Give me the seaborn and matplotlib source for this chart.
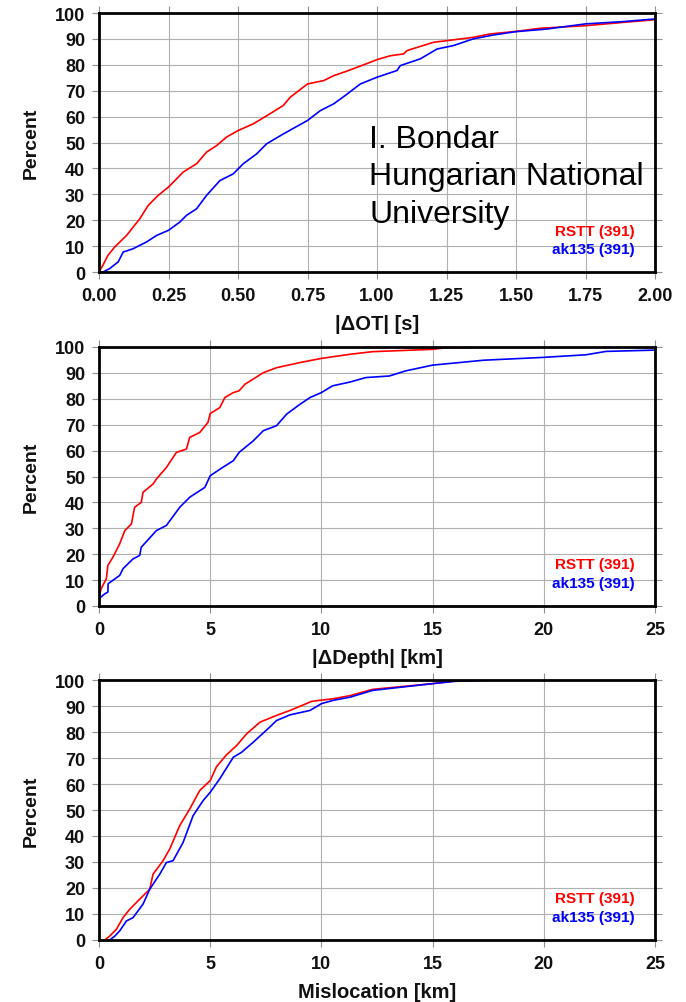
import numpy as np
import pandas as pd
import matplotlib
matplotlib.use("Agg")
import matplotlib.pyplot as plt
import seaborn as sns

# ---------------- data ----------------
# Panel 1: |dOT| [s]
ot_rstt_x = [0.0, 0.014, 0.032, 0.056, 0.099, 0.147, 0.177, 0.213, 0.25, 0.303, 0.351, 0.387, 0.423,
             0.459, 0.5, 0.555, 0.615, 0.663, 0.688, 0.75, 0.808, 0.844, 0.89, 0.94, 1.0, 1.048, 1.096,
             1.108, 1.204, 1.25, 1.346, 1.406, 1.5, 1.586, 1.75, 1.888, 2.0]
ot_rstt_y = [0.0, 2.6, 6.4, 9.6, 14.1, 20.6, 25.7, 29.6, 32.8, 38.6, 41.8, 46.3, 48.8,
             52.1, 54.6, 57.2, 61.1, 64.3, 67.5, 72.6, 73.9, 75.8, 77.5, 79.5, 82.0, 83.5, 84.2,
             85.5, 88.7, 89.3, 90.6, 91.9, 92.9, 94.1, 95.1, 96.4, 97.4]
ot_ak_x = [0.0, 0.015, 0.038, 0.069, 0.087, 0.123, 0.171, 0.207, 0.25, 0.291, 0.315, 0.351, 0.387,
           0.435, 0.483, 0.519, 0.567, 0.603, 0.663, 0.75, 0.796, 0.844, 0.89, 0.94, 1.0, 1.072,
           1.084, 1.156, 1.216, 1.274, 1.346, 1.418, 1.5, 1.61, 1.75, 1.888, 2.0]
ot_ak_y = [0.0, 0.0, 1.3, 3.9, 7.7, 9.0, 11.6, 14.1, 16.1, 19.3, 21.9, 24.4, 29.6,
           35.3, 37.9, 41.8, 45.6, 49.5, 53.3, 58.5, 62.3, 64.9, 68.5, 72.6, 75.2, 77.8,
           79.7, 82.3, 86.1, 87.4, 90.0, 91.5, 92.8, 93.8, 95.8, 96.7, 97.7]

# Panel 2: |dDepth| [km]
dep_rstt_x = [0.0, 0.1, 0.33, 0.4, 0.63, 0.93, 1.16, 1.46, 1.6, 1.9, 1.98, 2.43, 2.58, 3.03, 3.48,
              3.93, 4.08, 4.53, 4.9, 5.0, 5.43, 5.66, 6.04, 6.3, 6.56, 7.39, 7.98, 9.04, 10.0,
              11.3, 12.3, 15.0, 15.6, 17.6, 25.0]
dep_rstt_y = [3.5, 6.7, 10.5, 15.7, 18.9, 24.0, 29.1, 31.7, 38.1, 40.0, 43.9, 47.1, 49.0, 53.5, 59.3,
              60.6, 65.1, 67.0, 70.9, 74.3, 76.6, 80.5, 82.4, 83.1, 85.6, 90.1, 92.0, 94.0, 95.6,
              97.2, 98.2, 99.1, 99.7, 100.0, 100.0]
dep_ak_x = [0.0, 0.26, 0.4, 0.41, 0.93, 1.08, 1.53, 1.83, 1.9, 2.58, 3.03, 3.63, 4.08, 4.76, 5.0,
            5.56, 6.04, 6.3, 6.94, 7.39, 7.98, 8.44, 9.04, 9.49, 10.0, 10.5, 11.3, 12.0, 13.05,
            13.8, 15.0, 17.3, 20.0, 21.9, 22.8, 25.0]
dep_ak_y = [2.8, 4.7, 5.4, 8.6, 11.8, 14.4, 18.2, 19.5, 22.7, 29.1, 31.1, 38.1, 42.0, 45.8, 50.3,
            53.5, 56.1, 59.3, 63.8, 67.7, 69.6, 74.1, 77.9, 80.5, 82.4, 85.0, 86.5, 88.2, 88.8,
            90.8, 93.0, 94.9, 96.0, 97.0, 98.3, 98.8]

# Panel 3: Mislocation [km]
mis_rstt_x = [0.26, 0.48, 0.78, 1.08, 1.38, 1.83, 2.28, 2.43, 2.88, 3.18, 3.63, 4.08, 4.53, 5.0,
              5.28, 5.73, 6.19, 6.64, 7.24, 7.99, 8.59, 9.57, 10.54, 11.29, 12.3, 15.0, 15.9,
              17.4, 25.0]
mis_rstt_y = [0.0, 1.5, 4.1, 8.6, 11.8, 15.7, 19.5, 25.3, 30.5, 35.0, 44.0, 50.4, 57.5, 61.3,
              66.6, 71.2, 74.8, 79.3, 83.8, 86.4, 88.3, 91.8, 92.8, 94.0, 96.4, 98.6, 99.5,
              100.0, 100.0]
mis_ak_x = [0.48, 0.71, 0.93, 1.23, 1.53, 1.98, 2.28, 2.73, 3.03, 3.33, 3.78, 4.23, 4.68, 5.0,
            5.43, 6.04, 6.41, 6.94, 7.68, 7.98, 8.59, 9.49, 10.0, 10.54, 11.29, 12.3, 15.0,
            16.0, 17.6, 25.0]
mis_ak_y = [0.0, 1.5, 3.5, 7.3, 8.6, 13.8, 19.5, 25.3, 29.8, 30.5, 37.5, 47.8, 53.6, 56.8,
            62.0, 70.3, 72.2, 76.1, 81.9, 84.4, 86.6, 88.3, 90.9, 92.2, 93.4, 96.0, 98.6,
            99.5, 100.0, 100.0]

series_labels = ["RSTT (391)", "ak135 (391)"]
x_labels = ["|\u0394OT| [s]", "|\u0394Depth| [km]", "Mislocation [km]"]
x_limits = [(0, 2.0), (0, 25), (0, 25)]
x_ticks = [[0.0, 0.25, 0.5, 0.75, 1.0, 1.25, 1.5, 1.75, 2.0],
           [0, 5, 10, 15, 20, 25],
           [0, 5, 10, 15, 20, 25]]
x_fmt = ["{:.2f}", "{:d}", "{:d}"]
y_ticks = list(range(0, 101, 10))
annot_lines = ["I. Bondar", "Hungarian National", "University"]

panels = [
    (ot_rstt_x, ot_rstt_y, ot_ak_x, ot_ak_y),
    (dep_rstt_x, dep_rstt_y, dep_ak_x, dep_ak_y),
    (mis_rstt_x, mis_rstt_y, mis_ak_x, mis_ak_y),
]

# ---------------- style ----------------
sns.set_theme(style="white")
plt.rcParams['font.family'] = ['Liberation Sans', 'DejaVu Sans']

W, H = 686, 1003
fig = plt.figure(figsize=(W / 100, H / 100), dpi=100)

# axes boxes in pixels: (left, top, right, bottom)
boxes = [(99, 14, 655, 273), (99, 348, 655, 607), (99, 681, 655, 941)]
legend_y = [(0.158, 0.089), (0.162, 0.089), (0.162, 0.088)]
colors = ["#ff0000", "#0000ff"]

for i, (bx, (rx, ry, ax_, ay)) in enumerate(zip(boxes, panels)):
    l, t, r, b = bx
    ax = fig.add_axes([l / W, 1 - b / H, (r - l) / W, (b - t) / H])
    df = pd.concat([
        pd.DataFrame({"x": rx, "y": ry, "model": series_labels[0]}),
        pd.DataFrame({"x": ax_, "y": ay, "model": series_labels[1]}),
    ], ignore_index=True)
    sns.lineplot(data=df, x="x", y="y", hue="model", palette=colors, estimator=None,
                 sort=False, units="model", legend=False, linewidth=1.2, ax=ax, zorder=3)

    ax.set_xlim(*x_limits[i])
    ax.set_ylim(0, 100)
    ax.set_xticks(x_ticks[i])
    ax.set_xticklabels([x_fmt[i].format(v) for v in x_ticks[i]])
    ax.set_yticks(y_ticks)
    ax.set_yticklabels([str(v) for v in y_ticks])
    ax.grid(True, color="#b0b0b0", linewidth=0.8)
    ax.set_axisbelow(True)
    for s in ax.spines.values():
        s.set_color("black")
        s.set_linewidth(2.0)
        s.set_zorder(5)
    ax.tick_params(axis="both", which="both", direction="out", length=5, width=0.8,
                   color="#909090", top=True, right=True, bottom=True, left=True,
                   labelsize=13, labelcolor="#111111")
    ax.tick_params(axis="x", pad=6)
    ax.tick_params(axis="y", pad=5)
    for lab in ax.get_xticklabels() + ax.get_yticklabels():
        lab.set_fontweight("bold")
    ax.set_xlabel(x_labels[i], fontsize=14.5, fontweight="bold", labelpad=7, color="#111111")
    ax.set_ylabel("Percent", fontsize=14, fontweight="bold", labelpad=11, color="#111111")

    ax.text(0.964, legend_y[i][0], series_labels[0], transform=ax.transAxes, ha="right",
            va="center", fontsize=11, fontweight="bold", color=colors[0], zorder=6)
    ax.text(0.964, legend_y[i][1], series_labels[1], transform=ax.transAxes, ha="right",
            va="center", fontsize=11, fontweight="bold", color=colors[1], zorder=6)

    if i == 0:
        for k, line in enumerate(annot_lines):
            by = 148 + 37.5 * k
            ax.text((369 - l) / (r - l), (b - by) / (b - t), line, transform=ax.transAxes,
                    ha="left", va="baseline", fontsize=23, color="black", zorder=6)

fig.savefig("out.png", dpi=100)
